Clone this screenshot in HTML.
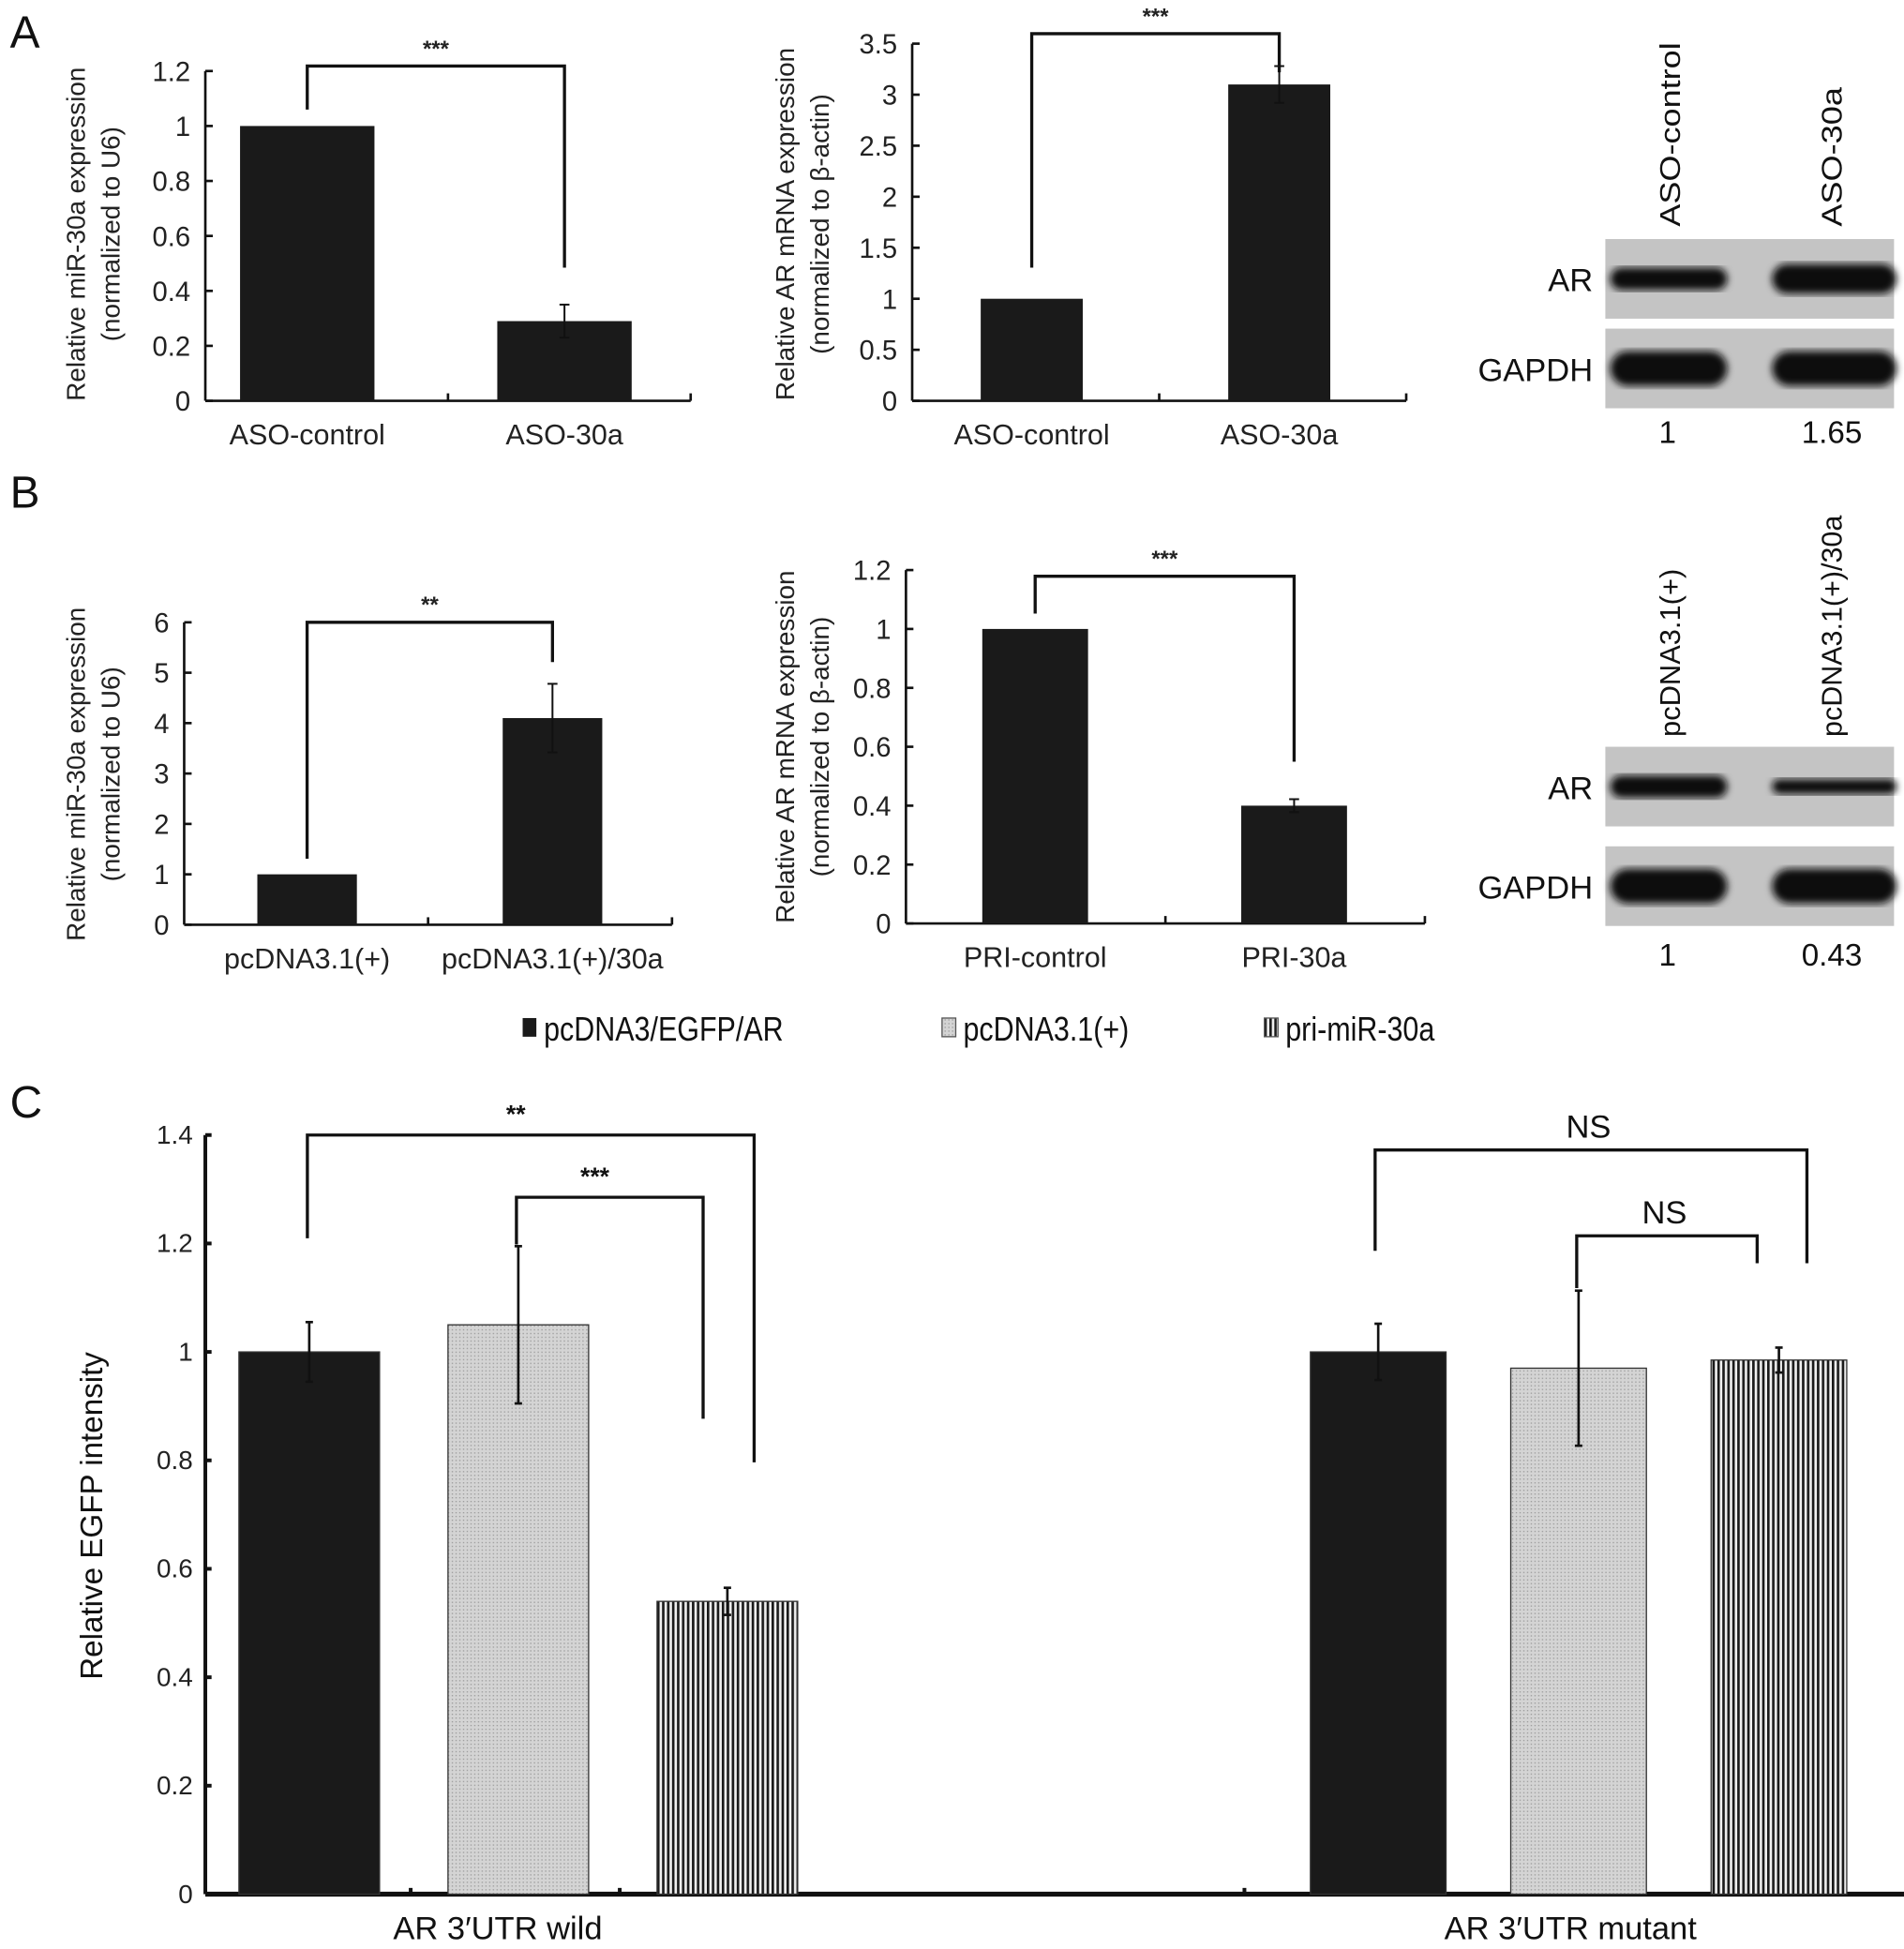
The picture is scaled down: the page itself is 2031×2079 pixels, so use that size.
<!DOCTYPE html>
<html><head><meta charset="utf-8">
<style>
html,body{margin:0;padding:0;background:#fff;}
svg{display:block;font-family:"Liberation Sans",sans-serif;}
</style></head>
<body>
<svg id="fig" width="2031" height="2079" viewBox="0 0 1530 1566" xmlns="http://www.w3.org/2000/svg">
<defs>
<pattern id="dots" width="3" height="3" patternUnits="userSpaceOnUse"><rect width="3" height="3" fill="#d4d4d4"/><rect width="1" height="1" fill="#9a9a9a"/></pattern>
<pattern id="stripes" width="4" height="4" patternUnits="userSpaceOnUse"><rect width="4" height="4" fill="#f0f0f0"/><rect width="2" height="4" fill="#1a1a1a"/></pattern>
<filter id="blur"><feGaussianBlur stdDeviation="3"/></filter>
</defs>
<g id="root"></g>
</svg>
<script>
// Panel A1
const a1Cats = ["ASO-control","ASO-30a"];
const a1Vals = [1.0, 0.29];
const a1Err = [0, 0.06];
const a1Ticks = [0,0.2,0.4,0.6,0.8,1,1.2];
// Panel A2
const a2Cats = ["ASO-control","ASO-30a"];
const a2Vals = [1.0, 3.1];
const a2Err = [0, 0.18];
const a2Ticks = [0,0.5,1,1.5,2,2.5,3,3.5];
// Panel B1
const b1Cats = ["pcDNA3.1(+)","pcDNA3.1(+)/30a"];
const b1Vals = [1.0, 4.1];
const b1Err = [0, 0.68];
const b1Ticks = [0,1,2,3,4,5,6];
// Panel B2
const b2Cats = ["PRI-control","PRI-30a"];
const b2Vals = [1.0, 0.4];
const b2Err = [0, 0.022];
const b2Ticks = [0,0.2,0.4,0.6,0.8,1,1.2];
// Panel C
const cGroups = ["AR 3\u2032UTR wild","AR 3\u2032UTR mutant"];
const cSeries = ["pcDNA3/EGFP/AR","pcDNA3.1(+)","pri-miR-30a"];
const cVals = [[1.0,1.05,0.54],[1.0,0.97,0.985]];
const cErr = [[0.055,0.145,0.025],[0.052,0.143,0.023]];
const cTicks = [0,0.2,0.4,0.6,0.8,1,1.2,1.4];

const NS="http://www.w3.org/2000/svg";
const root=document.getElementById('root');
function el(tag,attrs,parent,text){const e=document.createElementNS(NS,tag);for(const k in attrs)e.setAttribute(k,attrs[k]);if(text!==undefined)e.textContent=text;(parent||root).appendChild(e);return e;}
function fmt(v){return String(v);}

function barChart(cfg){
  const g=el('g',{});
  
  
  const {x0,x1,y0,yTop,max}=cfg;
  const ys=v=>y0-(v/max)*(y0-yTop);
  el('line',{x1:x0,y1:y0,x2:x0,y2:yTop,stroke:'#111','stroke-width':2},g);
  el('line',{x1:x0,y1:y0,x2:x1,y2:y0,stroke:'#111','stroke-width':2},g);
  const mid=(x0+x1)/2;
  [mid,x1].forEach(t=>el('line',{x1:t,y1:y0,x2:t,y2:y0-6,stroke:'#111','stroke-width':2},g));
  cfg.ticks.forEach(t=>{
    el('line',{x1:x0,y1:ys(t),x2:x0+6,y2:ys(t),stroke:'#111','stroke-width':2},g);
    const tx=el('text',{x:x0-12,y:ys(t)+8,'text-anchor':'end','font-size':22,fill:'#222'},g,fmt(t));
    
    
  });
  const bw=cfg.bw, W=x1-x0;
  const centers=[];
  cfg.vals.forEach((v,i)=>{
    const cx=x0+W*cfg.pos[i];
    centers.push(cx);
    const r=el('rect',{x:cx-bw/2,y:ys(v),width:bw,height:y0-ys(v),fill:'#1a1a1a'},g);
    
    
    const e=cfg.err[i];
    if(e>0){
      el('line',{x1:cx,y1:ys(v+e),x2:cx,y2:ys(v-e),stroke:'#111','stroke-width':1.5},g);
      el('line',{x1:cx-4,y1:ys(v+e),x2:cx+4,y2:ys(v+e),stroke:'#111','stroke-width':1.5},g);
      el('line',{x1:cx-4,y1:ys(v-e),x2:cx+4,y2:ys(v-e),stroke:'#111','stroke-width':1.5},g);
    }
    const xl=el('text',{x:cx,y:y0+35,'text-anchor':'middle','font-size':cfg.xfs||23,fill:'#222'},g,cfg.cats[i]);
    
    
  });
  const b=cfg.br;
  el('polyline',{points:`${centers[0]},${b.l} ${centers[0]},${b.top} ${centers[1]},${b.top} ${centers[1]},${b.r}`,fill:'none',stroke:'#111','stroke-width':2.5},g);
  const st=el('text',{x:(centers[0]+centers[1])/2,y:b.top-8,'text-anchor':'middle','font-size':18,'font-weight':'bold',fill:'#222'},g,b.label);
  
  
  const yl=el('text',{transform:`translate(${cfg.ylx},${cfg.ylc}) rotate(-90)`,'text-anchor':'middle','font-size':21,fill:'#222'},g);
  
  
  el('tspan',{x:0,dy:0},yl,cfg.yl1);
  el('tspan',{x:0,dy:28},yl,cfg.yl2);
}

barChart({name:'chart-a-mir30a',x0:165,x1:555,y0:322,yTop:57,max:1.2,ticks:a1Ticks,cats:a1Cats,vals:a1Vals,err:a1Err,bw:108,pos:[0.21,0.74],
  br:{top:53,l:88,r:215,label:'***'},ylx:68,ylc:188,yl1:'Relative miR-30a expression',yl2:'(normalized to U6)'});
barChart({name:'chart-a-ar-mrna',x0:733,x1:1130,y0:322,yTop:35,max:3.5,ticks:a2Ticks,cats:a2Cats,vals:a2Vals,err:a2Err,bw:82,pos:[0.242,0.743],
  br:{top:27,l:215,r:58,label:'***'},ylx:638,ylc:180,yl1:'Relative AR mRNA expression',yl2:'(normalized to \u03b2-actin)'});
barChart({name:'chart-b-mir30a',x0:148,x1:540,y0:743,yTop:500,max:6,ticks:b1Ticks,cats:b1Cats,vals:b1Vals,err:b1Err,bw:80,pos:[0.252,0.755],
  br:{top:500,l:690,r:532,label:'**'},ylx:68,ylc:622,yl1:'Relative miR-30a expression',yl2:'(normalized to U6)'});
barChart({name:'chart-b-ar-mrna',x0:728,x1:1145,y0:742,yTop:458,max:1.2,ticks:b2Ticks,cats:b2Cats,vals:b2Vals,err:b2Err,bw:85,pos:[0.249,0.748],
  br:{top:463,l:493,r:612,label:'***'},ylx:638,ylc:600,yl1:'Relative AR mRNA expression',yl2:'(normalized to \u03b2-actin)'});

[['A',8,38],['B',8,408],['C',8,898]].forEach(p=>{
  const t=el('text',{x:p[1],y:p[2],'font-size':36,fill:'#111'},root,p[0]);
  
  
});

function blot(name,top,lanes,arW,nums){
  const g=el('g',{});
  
  
  const laneX=[1340,1470];
  lanes.forEach((l,i)=>{
    const t=el('text',{transform:`translate(${laneX[i]+10},${top.labelBase}) rotate(-90)`,'font-size':23,fill:'#111',textLength:top.lens[i],lengthAdjust:'spacingAndGlyphs'},g,l);
    
    
  });
  [[top.ar,'AR',arW],[top.gapdh,'GAPDH',[1,1]]].forEach(([y,lab,w])=>{
    el('rect',{x:1290,y:y,width:232,height:64,fill:'#c4c4c4'},g);
    laneX.forEach((cx,i)=>{
      const h=lab==='GAPDH'?28:(w[i]>1.2?24:(w[i]<0.6?12:18));
      el('rect',{x:cx-46,y:y+32-h/2,width:cx===1340?94:100,height:h,rx:h/2,fill:'#111',filter:'url(#blur)'},g);
    });
    const lt=el('text',{x:1280,y:y+42,'text-anchor':'end','font-size':26,fill:'#111'},g,lab);
    
    
  });
  nums.forEach((n,i)=>{
    const t=el('text',{x:laneX[i]+(i?2:0),y:top.num,'text-anchor':'middle','font-size':25,fill:'#111'},g,n);
    
    
  });
}
blot('western-blot-a',{labelBase:182,lens:[148,112],ar:192,gapdh:264,num:356},["ASO-control","ASO-30a"],[1,1.65],["1","1.65"]);
blot('western-blot-b',{labelBase:592,lens:[135,178],ar:600,gapdh:680,num:776},["pcDNA3.1(+)","pcDNA3.1(+)/30a"],[1,0.43],["1","0.43"]);

const fills=['#1a1a1a','url(#dots)','url(#stripes)'];
const legX=[420,757,1016];
cSeries.forEach((s,i)=>{
  const g=el('g',{});
  
  
  el('rect',{x:legX[i],y:818,width:11,height:15,fill:fills[i],stroke:'#555','stroke-width':i?1:0},g);
  el('text',{x:legX[i]+17,y:836,'font-size':27,fill:'#111',transform:`translate(${legX[i]+17},0) scale(0.85,1) translate(${-(legX[i]+17)},0)`},g,s);
});

(function(){
  const g=el('g',{});
  
  
  const x0=165,x1=1530,y0=1522,yTop=912,max=1.4;
  const ys=v=>y0-(v/max)*(y0-yTop);
  el('line',{x1:x0,y1:y0,x2:x0,y2:yTop,stroke:'#111','stroke-width':3},g);
  el('line',{x1:x0,y1:y0,x2:x1,y2:y0,stroke:'#111','stroke-width':4},g);
  cTicks.forEach(t=>{
    el('line',{x1:x0,y1:ys(t),x2:x0+5,y2:ys(t),stroke:'#111','stroke-width':3},g);
    const tx=el('text',{x:x0-10,y:ys(t)+7,'text-anchor':'end','font-size':21,fill:'#222'},g,fmt(t));
    
    
  });
  [330,498,1000,1318,1460].forEach(t=>el('line',{x1:t,y1:y0,x2:t,y2:y0-5,stroke:'#111','stroke-width':3},g));
  const groupStart=[192,1053], step=[168,161], bw=[113,109];
  cVals.forEach((gv,gi)=>{
    gv.forEach((v,si)=>{
      const x=groupStart[gi]+step[gi]*si, cx=x+bw[gi]/2;
      const r=el('rect',{x:x,y:ys(v),width:bw[gi],height:y0-ys(v),fill:fills[si],stroke:'#333','stroke-width':1},g);
      
      
      const e=cErr[gi][si];
      el('line',{x1:cx,y1:ys(v+e),x2:cx,y2:ys(v-e),stroke:'#111','stroke-width':2},g);
      el('line',{x1:cx-3,y1:ys(v+e),x2:cx+3,y2:ys(v+e),stroke:'#111','stroke-width':2},g);
      el('line',{x1:cx-3,y1:ys(v-e),x2:cx+3,y2:ys(v-e),stroke:'#111','stroke-width':2},g);
    });
    const xl=el('text',{x:gi?1262:400,y:1558,'text-anchor':'middle','font-size':26,fill:'#111'},g,cGroups[gi]);
    
    
  });
  const brs=[
    {a:247,b:606,top:912,l:995,r:1175,lab:'**',fs:20},
    {a:415,b:565,top:962,l:1000,r:1140,lab:'***',fs:20},
    {a:1105,b:1452,top:924,l:1005,r:1015,lab:'NS',fs:26},
    {a:1267,b:1412,top:993,l:1035,r:1015,lab:'NS',fs:26}];
  brs.forEach(b=>{
    el('polyline',{points:`${b.a},${b.l} ${b.a},${b.top} ${b.b},${b.top} ${b.b},${b.r}`,fill:'none',stroke:'#111','stroke-width':2.5},g);
    const t=el('text',{x:(b.a+b.b)/2+(b.lab==='NS'?-2:-12),y:b.top-10,'text-anchor':'middle','font-size':b.fs,'font-weight':b.lab==='NS'?'normal':'bold',fill:'#111'},g,b.lab);
    
    
  });
  const yl=el('text',{transform:'translate(82,1218) rotate(-90)','text-anchor':'middle','font-size':25,fill:'#111'},g,'Relative EGFP intensity');
  
  
})();
</script>
</body></html>
